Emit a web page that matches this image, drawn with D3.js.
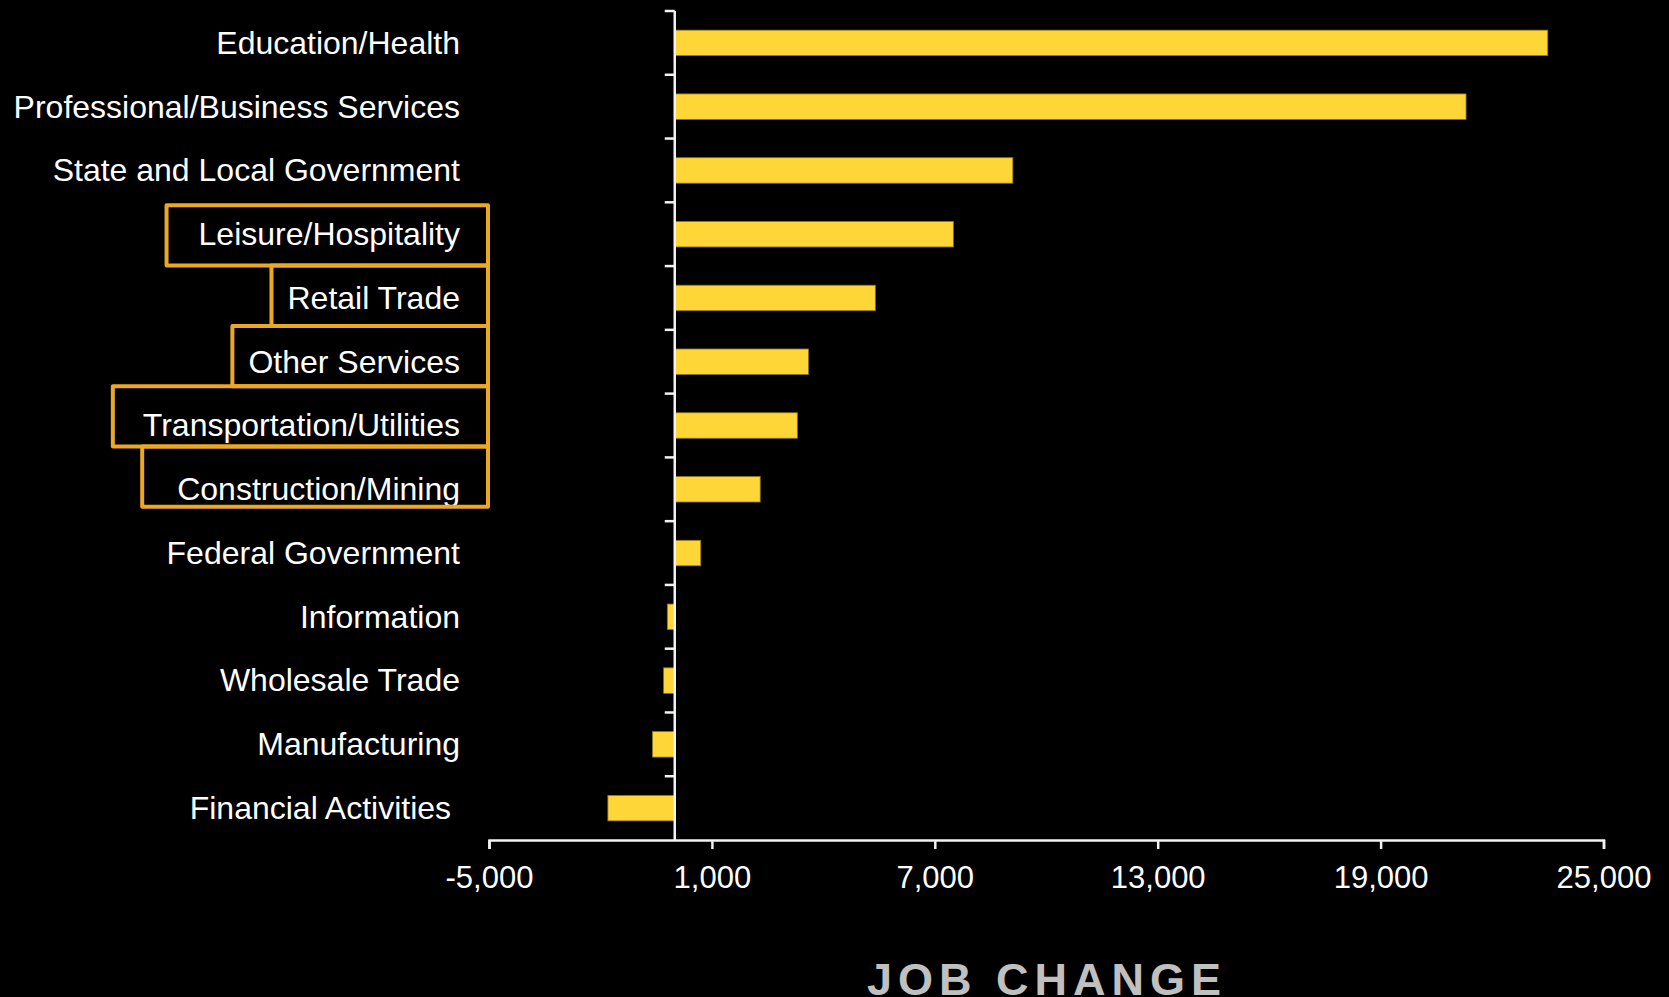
<!DOCTYPE html>
<html>
<head>
<meta charset="utf-8">
<script src="https://cdn.jsdelivr.net/npm/d3@7"></script>
<style>
  html, body { margin: 0; padding: 0; background: #000; overflow: hidden; }
  svg { display: block; }
  text { font-family: "Liberation Sans", Arial, sans-serif; }
</style>
</head>
<body>
<svg id="chart" width="1669" height="997"></svg>
<script>
// ---- data ----
const categories = [
  "Education/Health",
  "Professional/Business Services",
  "State and Local Government",
  "Leisure/Hospitality",
  "Retail Trade",
  "Other Services",
  "Transportation/Utilities",
  "Construction/Mining",
  "Federal Government",
  "Information",
  "Wholesale Trade",
  "Manufacturing",
  "Financial Activities "
];
const jobChange = [23500, 21300, 9100, 7500, 5400, 3600, 3300, 2300, 700, -200, -300, -600, -1800];
const xTickValues = [-5000, 1000, 7000, 13000, 19000, 25000];
const highlighted = ["Leisure/Hospitality", "Retail Trade", "Other Services", "Transportation/Utilities", "Construction/Mining"];
const axisTitle = "JOB CHANGE";

// ---- layout ----
const svg = d3.select("#chart");
const W = 1669, H = 997;
svg.append("rect").attr("width", W).attr("height", H).attr("fill", "#000");

const x = d3.scaleLinear().domain([-5000, 25000]).range([489, 1603.5]);
const y = d3.scaleBand().domain(categories).range([11, 840]).paddingInner(0.6).paddingOuter(0.3);

const axisColor = "#f2f2f2";
const barColor = "#FFD638";

// bars
svg.append("g").selectAll("rect")
  .data(categories.map((c, i) => ({ c, v: jobChange[i] })))
  .join("rect")
  .attr("x", d => x(Math.min(0, d.v)))
  .attr("width", d => Math.abs(x(d.v) - x(0)))
  .attr("y", d => y(d.c))
  .attr("height", y.bandwidth())
  .attr("fill", barColor)
  .attr("stroke", "#8a7420")
  .attr("stroke-width", 0.8);

// x axis
const fmt = d3.format(",");
const xAxis = d3.axisBottom(x)
  .tickValues(xTickValues)
  .tickFormat(d => fmt(d).replace("\u2212", "-"))
  .tickSize(9)
  .tickSizeOuter(9);
const gx = svg.append("g").attr("transform", "translate(0,840)").call(xAxis);
gx.select(".domain").attr("stroke", axisColor).attr("stroke-width", 2.5);
gx.selectAll(".tick line").attr("stroke", axisColor).attr("stroke-width", 2.5);
gx.selectAll(".tick text")
  .attr("fill", "#fff")
  .attr("font-size", 31)
  .attr("font-family", "'Liberation Sans', Arial, sans-serif")
  .attr("y", 26);

// y axis (vertical line at zero with ticks at band boundaries)
const step = y.step();
const y0 = y.range()[0];
const gy = svg.append("g");
gy.append("line")
  .attr("x1", x(0)).attr("x2", x(0))
  .attr("y1", y0).attr("y2", y.range()[1])
  .attr("stroke", axisColor).attr("stroke-width", 2.5);
gy.selectAll("line.tick")
  .data(categories)
  .join("line")
  .attr("class", "tick")
  .attr("x1", x(0) - 10).attr("x2", x(0))
  .attr("y1", (d, i) => y0 + i * step)
  .attr("y2", (d, i) => y0 + i * step)
  .attr("stroke", axisColor).attr("stroke-width", 2.5);

// category labels
const labelX = 460;
const labels = svg.append("g").selectAll("text")
  .data(categories)
  .join("text")
  .attr("x", labelX)
  .attr("y", d => y(d) + y.bandwidth() / 2)
  .attr("dy", "0.34em")
  .attr("text-anchor", "end")
  .attr("fill", "#fff")
  .attr("font-size", 32)
  .style("white-space", "pre")
  .text(d => d);

// highlight boxes around selected labels
const boxPad = [32, 16, 16, 30, 35];
const boxH = 60.3;
const boxTop0 = y(highlighted[0]) - step * y.paddingOuter() + 3;
const boxRight = 488;
const boxes = highlighted.map((c, i) => {
  const node = labels.filter(d => d === c).node();
  const bb = node.getBBox();
  return { c, left: bb.x - boxPad[i], top: boxTop0 + i * boxH };
});
svg.append("g").selectAll("rect")
  .data(boxes)
  .join("rect")
  .attr("x", d => d.left)
  .attr("y", d => d.top)
  .attr("width", d => boxRight - d.left)
  .attr("height", boxH)
  .attr("fill", "none")
  .attr("stroke", "#EBA824")
  .attr("stroke-width", 4)
  .attr("stroke-linejoin", "round");

// axis title
svg.append("text")
  .attr("x", 867)
  .attr("y", 995)
  .attr("fill", "#c0c0c0")
  .attr("font-size", 45)
  .attr("font-weight", "bold")
  .attr("letter-spacing", 6)
  .text(axisTitle);
</script>
</body>
</html>
